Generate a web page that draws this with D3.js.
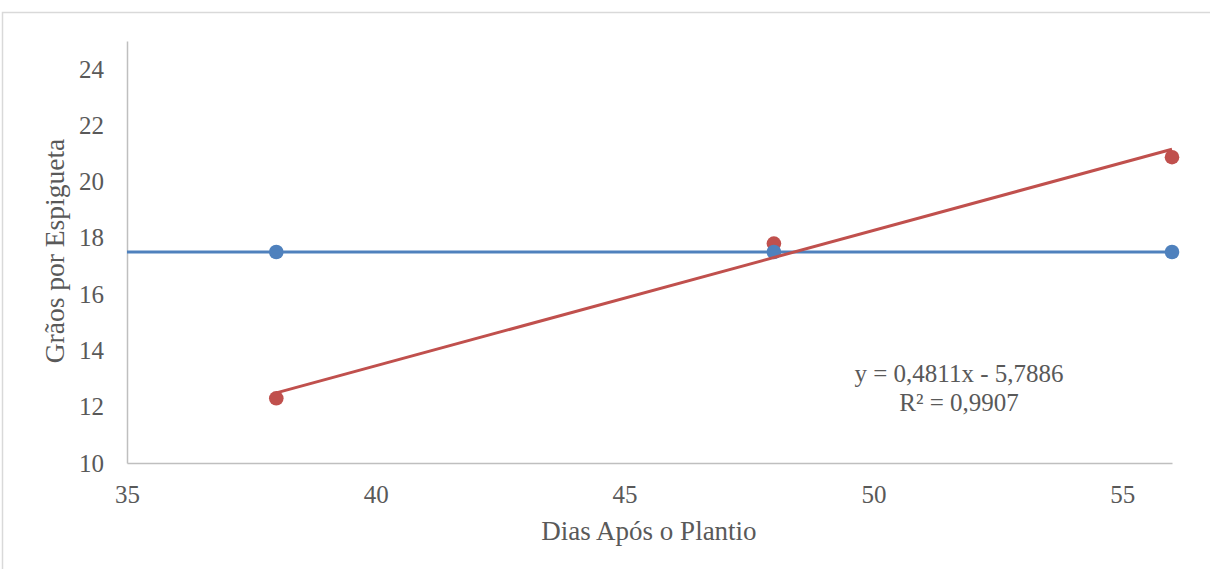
<!DOCTYPE html>
<html><head><meta charset="utf-8">
<script src="https://cdn.jsdelivr.net/npm/d3@7"></script>
<style>body{margin:0;background:#fff;} svg{display:block;}</style>
</head><body>
<svg id="c" width="1210" height="569"></svg>
<script>
const days = [38, 48, 56];
const serieAzul = [17.5, 17.5, 17.5];
const serieVermelha = [12.3, 17.8, 20.87];
const xTicks = [35, 40, 45, 50, 55];
const yTicks = [10, 12, 14, 16, 18, 20, 22, 24];
const xDomain = [35, 56];
const yDomain = [10, 25];
const trendSlope = 0.4811, trendIntercept = -5.7886;
const equationLines = ["y = 0,4811x - 5,7886", "R² = 0,9907"];
const xTitle = "Dias Após o Plantio";
const yTitle = "Grãos por Espigueta";

const svg = d3.select("#c");
const font = "'Liberation Serif', serif";
const textColor = "#595959";
const blue = "#4f81bd", red = "#c0504d";

svg.append("rect").attr("x", 2.5).attr("y", 12.5).attr("width", 1220).attr("height", 580)
  .attr("fill", "#fff").attr("stroke", "#d9d9d9").attr("stroke-width", 1.5);

const x = d3.scaleLinear().domain(xDomain).range([127, 1172]);
const y = d3.scaleLinear().domain(yDomain).range([463, 41]);

// axes
const xAxis = svg.append("g").attr("transform", "translate(0,463)")
  .call(d3.axisBottom(x).tickValues(xTicks).tickSize(0).tickPadding(22));
const yAxis = svg.append("g").attr("transform", "translate(127,0)")
  .call(d3.axisLeft(y).tickValues(yTicks).tickSize(0).tickPadding(23));
[xAxis, yAxis].forEach(g => {
  g.select(".domain").attr("stroke", "#bfbfbf").attr("stroke-width", 1.5);
  g.selectAll("text").attr("fill", textColor).style("font-family", font).style("font-size", "25px");
});

// red points
svg.append("g").selectAll("circle").data(days).join("circle")
  .attr("cx", d => x(d)).attr("cy", (d, i) => y(serieVermelha[i])).attr("r", 7.3).attr("fill", red);
// blue points
svg.append("g").selectAll("circle").data(days).join("circle")
  .attr("cx", d => x(d)).attr("cy", (d, i) => y(serieAzul[i])).attr("r", 7.3).attr("fill", blue);
// blue line
const meanBlue = d3.mean(serieAzul);
svg.append("line").attr("x1", x(xDomain[0])).attr("x2", x(xDomain[1]))
  .attr("y1", y(meanBlue)).attr("y2", y(meanBlue)).attr("stroke", blue).attr("stroke-width", 3);
// red trend line
const x0 = d3.min(days), x1 = d3.max(days);
svg.append("line").attr("x1", x(x0)).attr("x2", x(x1))
  .attr("y1", y(trendSlope * x0 + trendIntercept)).attr("y2", y(trendSlope * x1 + trendIntercept))
  .attr("stroke", red).attr("stroke-width", 3);

// equation
svg.append("text").attr("x", 959).attr("y", 382).attr("text-anchor", "middle")
  .attr("fill", textColor).style("font-family", font).style("font-size", "25px").text(equationLines[0]);
svg.append("text").attr("x", 959).attr("y", 411).attr("text-anchor", "middle")
  .attr("fill", textColor).style("font-family", font).style("font-size", "25px").text(equationLines[1]);

// titles
svg.append("text").attr("x", 649).attr("y", 540).attr("text-anchor", "middle")
  .attr("fill", textColor).style("font-family", font).style("font-size", "27px").text(xTitle);
svg.append("text").attr("transform", "translate(64,251) rotate(-90)").attr("text-anchor", "middle")
  .attr("fill", textColor).style("font-family", font).style("font-size", "27.5px").text(yTitle);
</script>
</body></html>
